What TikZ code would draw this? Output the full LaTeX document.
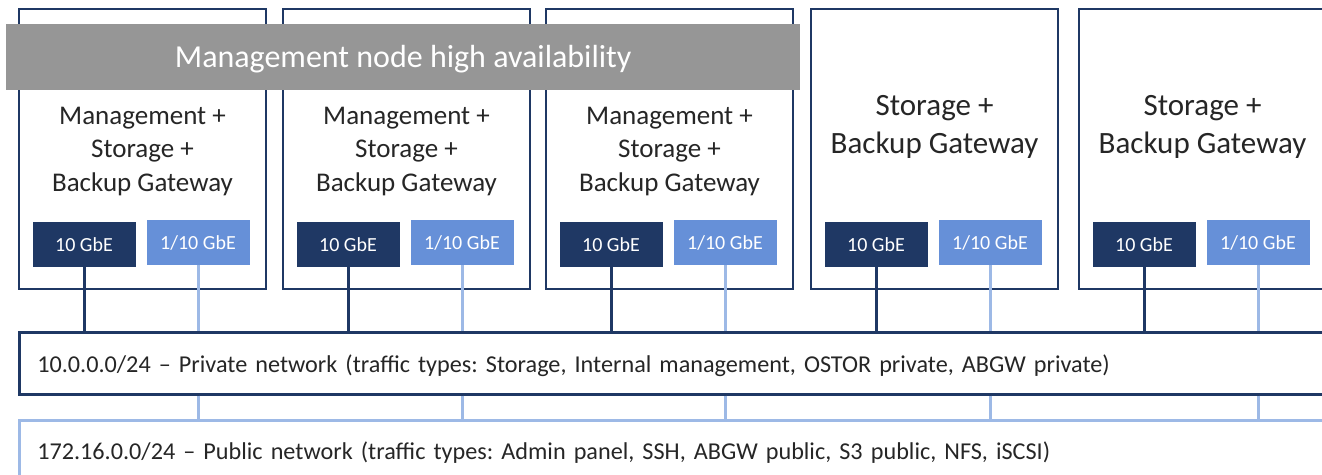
\documentclass[tikz,border=0pt]{standalone}
\usepackage{fontspec}
\setmainfont{Carlito}
\frenchspacing
\definecolor{navy}{HTML}{1F3864}
\definecolor{portlight}{HTML}{6690D8}
\definecolor{linklight}{HTML}{9DB9E6}
\definecolor{bannergray}{HTML}{969696}
\definecolor{ink}{HTML}{262626}
\tikzset{
  hostbox/.style={draw=navy, line width=2pt, fill=white, anchor=north west,
    minimum width=247pt, minimum height=280pt, inner sep=0pt},
  hosttext/.style={text=ink, align=center, inner sep=0pt},
  porthi/.style={fill=navy, text=white, minimum width=103pt, minimum height=45pt,
    inner sep=0pt, font=\fontsize{20}{23}\selectfont},
  portlo/.style={porthi, fill=portlight},
  netbox/.style={fill=white, anchor=north west, text=ink, align=left,
    text width=1360pt, inner xsep=18pt, inner ysep=0pt,
    font=\fontsize{24.2}{28}\selectfont},
  privlink/.style={draw=navy, line width=3pt},
  publink/.style={draw=linklight, line width=3pt},
  banner/.style={fill=bannergray, text=white, anchor=north west,
    minimum width=794pt, minimum height=66pt, inner sep=0pt,
    text height=24pt, text depth=4pt,
    font=\fontsize{32}{38}\selectfont}
}
\begin{document}
\begin{tikzpicture}[x=1pt,y=-1pt]
\useasboundingbox (0,0) rectangle (1322,474);
\clip (0,0) rectangle (1322,474);

% server boxes with their two network ports
\foreach \i/\x in {1/18,2/282,3/545,4/810,5/1078} {
  \node[hostbox] (h\i) at (\x,8) {};
  \node[porthi] (d\i) at (\x+66,244.5) {10 GbE};
  \node[portlo] (l\i) at (\x+180,242.5) {1/10 GbE};
}

% roles of each server
\foreach \i in {1,2,3}
  \node[hosttext, font=\fontsize{27}{33.5}\selectfont] (t\i) at (h\i.center |- 0,151.5)
    {Management +\\Storage +\\Backup Gateway};
\foreach \i in {4,5}
  \node[hosttext, font=\fontsize{31}{38}\selectfont] (t\i) at (h\i.center |- 0,127)
    {Storage +\\Backup Gateway};

% the two networks
\node[netbox, draw=navy, line width=2.5pt, minimum height=62pt,
      text height=24pt, text depth=5pt] (priv) at (18,331)
  {10.0.0.0/24 – Private network (traffic types: Storage, Internal management, OSTOR private, ABGW private)};
\node[netbox, draw=linklight, line width=2.5pt, minimum height=58pt,
      text height=26pt, text depth=5pt] (pub) at (18,419)
  {172.16.0.0/24 – Public network (traffic types: Admin panel, SSH, ABGW public, S3 public, NFS, iSCSI)};

% port-to-network links
\foreach \i in {1,...,5} {
  \draw[privlink] (d\i.south) -- (d\i.south |- priv.north);
  \draw[publink] (l\i.south) -- (l\i.south |- priv.north);
  \draw[publink] (l\i.south |- priv.south) -- (l\i.south |- pub.north);
}

% high-availability banner across the first three servers
\node[banner] (ha) at (6,24) {Management node high availability};
\end{tikzpicture}
\end{document}
